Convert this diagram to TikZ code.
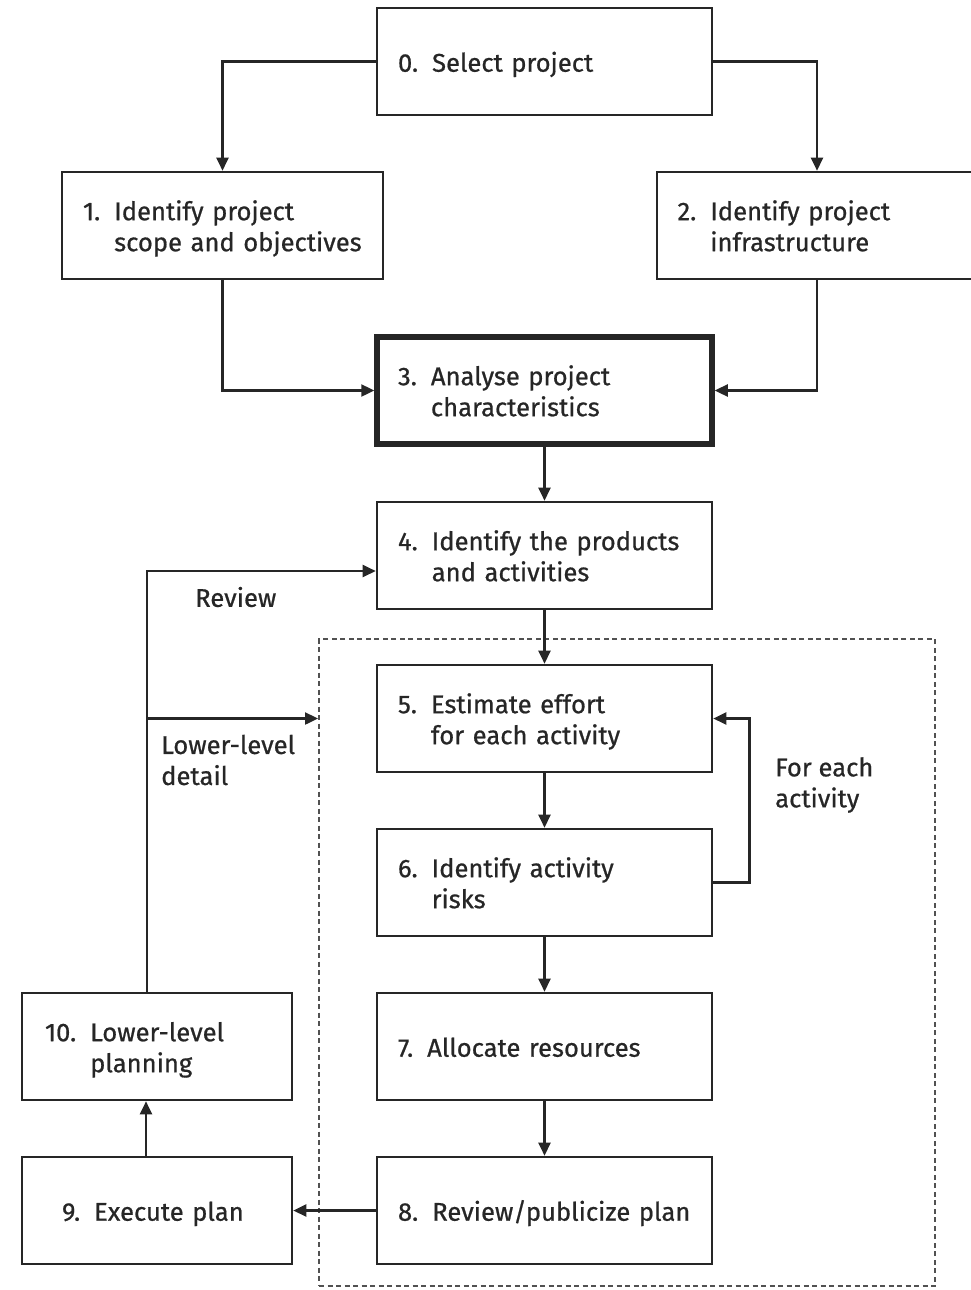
\documentclass[tikz,border=0pt]{standalone}
\usepackage{fontspec}
\setmainfont{Fira Sans}[FakeBold=0.7]
\usetikzlibrary{arrows.meta,calc}
\definecolor{ink}{HTML}{262626}
% numbered step text with a hanging indent after the number
\newcommand{\steptext}[2]{\raisebox{-4pt}[\height][\depth]{\begin{tabular}{@{}l@{\hspace{14pt}}l@{}}#1 & #2\end{tabular}}}
\begin{document}
\begin{tikzpicture}[x=1pt,y=-1pt,
  font=\fontsize{25.6}{31}\selectfont, text=ink,
  stepbox/.style={draw=ink, line width=2.6pt, rectangle, minimum height=107pt,
    inner xsep=21pt, inner ysep=0pt, align=left},
  wide/.style={stepbox, minimum width=335pt, text width=293pt},
  keybox/.style={wide, line width=5.5pt},
  side/.style={stepbox, minimum width=270pt, text width=228pt},
  flow/.style={draw=ink, line width=2.4pt, -{Triangle[length=13pt,width=12pt]}},
  note/.style={align=left, inner sep=0pt, anchor=west}]
\useasboundingbox (0,0) rectangle (971,1290);

% work group covering steps 5 to 8
\node[draw=ink!80, line width=2pt, dash pattern=on 5pt off 3.5pt,
  minimum width=616pt, minimum height=647pt, inner sep=0pt] (grp) at (627,962.5) {};

% step boxes
\node[wide] (b0) at (544.5,61.5) {\steptext{0.}{Select project}};
\node[stepbox, minimum width=321pt, text width=279pt] (b1) at (222.5,225.5)
  {\steptext{1.}{Identify project\\ & scope and objectives}};
\node[stepbox, minimum width=320pt, text width=279pt, inner xsep=20pt] (b2) at (817,225.5)
  {\steptext{2.}{Identify project\\ & infrastructure}};
\node[keybox] (b3) at (544.5,390.5) {\steptext{3.}{Analyse project\\ & characteristics}};
\node[wide] (b4) at (544.5,555.5) {\steptext{4.}{Identify the products\\ & and activities}};
\node[wide] (b5) at (544.5,718.5) {\steptext{5.}{Estimate effort\\ & for each activity}};
\node[wide] (b6) at (544.5,882.5) {\steptext{6.}{Identify activity\\ & risks}};
\node[wide] (b7) at (544.5,1046.5) {\steptext{7.}{Allocate resources}};
\node[wide] (b8) at (544.5,1210.5) {\steptext{8.}{Review/publicize plan}};
\node[side, inner xsep=40pt, text width=190pt] (b9) at (157,1210.5) {\steptext{9.}{Execute plan}};
\node[side, inner xsep=23pt, text width=224pt] (b10) at (157,1046.5)
  {\steptext{10.}{Lower-level\\ & planning}};

% connectors
\draw[flow] (b0.west) -| (b1.north);
\draw[flow] (b0.east) -| (b2.north);
\draw[flow] (b1.south) |- (b3.west);
\draw[flow] (b2.south) |- (b3.east);
\draw[flow] (b3) -- (b4);
\draw[flow] (b4) -- (b5);
\draw[flow] (b5) -- (b6);
\draw[flow] (b6) -- (b7);
\draw[flow] (b7) -- (b8);
\draw[flow] (b6.east) -- ++(36,0) |- (b5.east);
\draw[flow] (b8.west) -- (b9.east);
\draw[flow] ([xshift=-11pt]b9.north) -- ([xshift=-11pt]b10.south);
\coordinate (br) at ([xshift=-10pt]b10.north |- b5.west);
\draw[flow] ([xshift=-10pt]b10.north) |- ([yshift=-15.5pt]b4.west);
\draw[flow] (br) -- (br -| grp.west);

% labels
\node[note] (lrev) at (195,597) {Review};
\node[note] (llow) at (161,760) {Lower-level\\detail};
\node[note] (leach) at (775,785) {For each\\activity};
\end{tikzpicture}
\end{document}
